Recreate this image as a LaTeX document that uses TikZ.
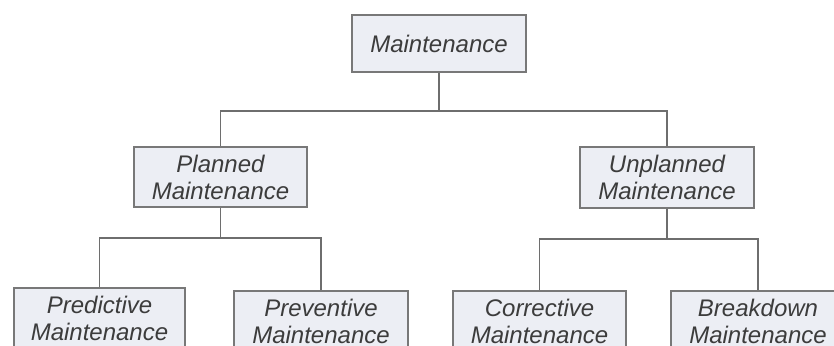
\documentclass[tikz,border=0pt]{standalone}
\usepackage{fontspec}
\setmainfont{Liberation Sans}
\definecolor{boxfill}{RGB}{236,238,244}
\definecolor{boxline}{RGB}{120,120,120}
\definecolor{conn}{RGB}{110,110,110}
\definecolor{txt}{RGB}{60,60,60}
\begin{document}
\begin{tikzpicture}[x=1pt,y=-1pt,
  mbox/.style={draw=boxline, line width=1.4pt, fill=boxfill, rectangle,
    minimum height=60pt, inner sep=0pt, align=center, text=txt,
    font=\fontsize{24}{27}\selectfont\itshape},
  link/.style={draw=conn, line width=1.4pt}]
\useasboundingbox (0,0) rectangle (834,345);
\clip (0,0) rectangle (834,345);
\node[mbox, minimum width=174pt, minimum height=57pt] (top) at (439,43.5) {Maintenance};
\node[mbox, minimum width=173pt] (planned) at (220.5,177) {Planned\\Maintenance};
\node[mbox, minimum width=174pt, minimum height=61pt] (unplanned) at (667,177.5) {Unplanned\\Maintenance};
\node[mbox, minimum width=171pt] (predictive) at (99.5,318) {Predictive\\Maintenance};
\node[mbox, minimum width=174pt] (preventive) at (321,321) {Preventive\\Maintenance};
\node[mbox, minimum width=173pt] (corrective) at (539.5,321) {Corrective\\Maintenance};
\node[mbox, minimum width=174pt] (breakdown) at (758,321) {Breakdown\\Maintenance};
\coordinate (j1) at (439,111);
\coordinate (j2) at (220.5,238);
\coordinate (j3) at (667,239);
\draw[link] (top.south) -- (j1);
\draw[link] (planned.north) |- (j1) -| (unplanned.north);
\draw[link] (planned.south) -- (j2);
\draw[link] (predictive.north) |- (j2) -| (preventive.north);
\draw[link] (unplanned.south) -- (j3);
\draw[link] (corrective.north) |- (j3) -| (breakdown.north);
\end{tikzpicture}
\end{document}
